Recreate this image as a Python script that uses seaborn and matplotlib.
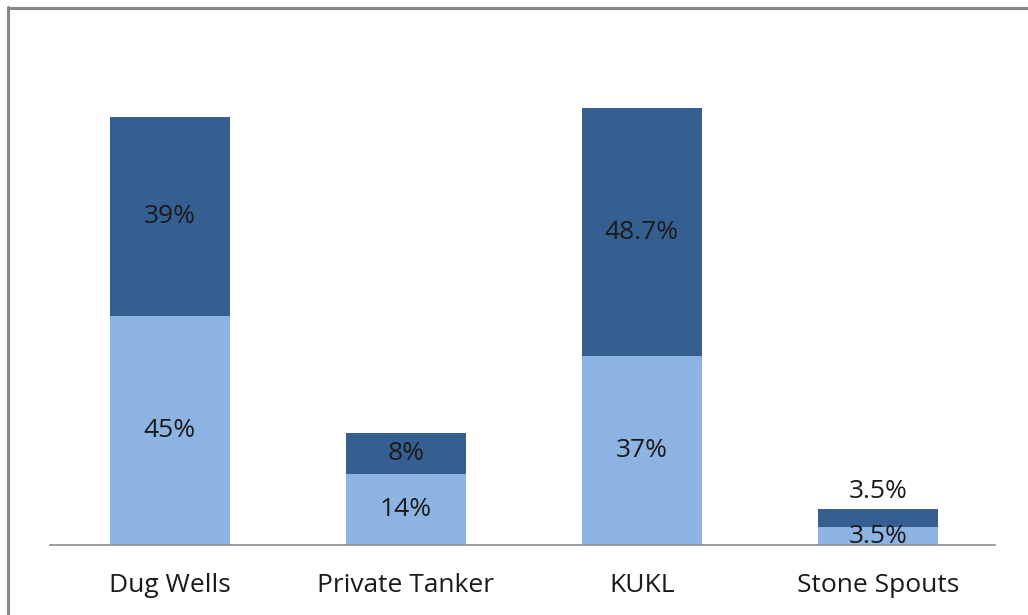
import matplotlib
matplotlib.use("Agg")
import matplotlib.pyplot as plt
from matplotlib.lines import Line2D
import pandas as pd
import seaborn as sns

# chart data
sources = ["Dug Wells", "Private Tanker", "KUKL", "Stone Spouts"]
lower_share = [45, 14, 37, 3.5]
upper_share = [39, 8, 48.7, 3.5]
lower_labels = ["45%", "14%", "37%", "3.5%"]
upper_labels = ["39%", "8%", "48.7%", "3.5%"]

DARK = "#365F91"
LIGHT = "#8DB3E2"
TEXT = "#1a1a1a"

df = pd.DataFrame({"source": sources, "lower": lower_share, "upper": upper_share})
df["total"] = df["lower"] + df["upper"]

sns.set_style("white")
plt.rcParams["font.family"] = ["Open Sans", "DejaVu Sans"]

fig = plt.figure(figsize=(10.28, 6.15), dpi=100)
ax = fig.add_axes([50 / 1028, 1 - 545 / 615, 945 / 1028, 515 / 615])

# total bar in dark, lower share drawn over it
sns.barplot(data=df, x="source", y="total", color=DARK, saturation=1,
            width=0.51, linewidth=0, ax=ax)
sns.barplot(data=df, x="source", y="lower", color=LIGHT, saturation=1,
            width=0.51, linewidth=0, ax=ax)

ax.set_xlim(-0.508, 3.496)
ax.set_ylim(0, 101)
ax.set_xlabel("")
ax.set_ylabel("")
ax.set_yticks([])
for side in ["left", "right", "top"]:
    ax.spines[side].set_visible(False)
ax.spines["bottom"].set_color("#8c8c8c")
ax.spines["bottom"].set_linewidth(1.2)
ax.tick_params(axis="x", length=0, pad=20, labelsize=19, labelcolor=TEXT)

for i in range(len(sources)):
    lo = lower_share[i]
    up = upper_share[i]
    ax.text(i, lo / 2, lower_labels[i], ha="center", va="center",
            fontsize=19, color=TEXT)
    if up < 5:
        ax.text(i, lo + up + 3.5, upper_labels[i], ha="center", va="center",
                fontsize=19, color=TEXT)
    else:
        ax.text(i, lo + up / 2, upper_labels[i], ha="center", va="center",
                fontsize=19, color=TEXT)

# frame on the left and top like the original chart area
fig.add_artist(Line2D([8 / 1028, 8 / 1028], [0, 1 - 7 / 615],
                      transform=fig.transFigure, color="#888888", lw=2.2))
fig.add_artist(Line2D([8 / 1028, 1], [1 - 8 / 615, 1 - 8 / 615],
                      transform=fig.transFigure, color="#888888", lw=2.2))

fig.savefig("out.png", dpi=100)
